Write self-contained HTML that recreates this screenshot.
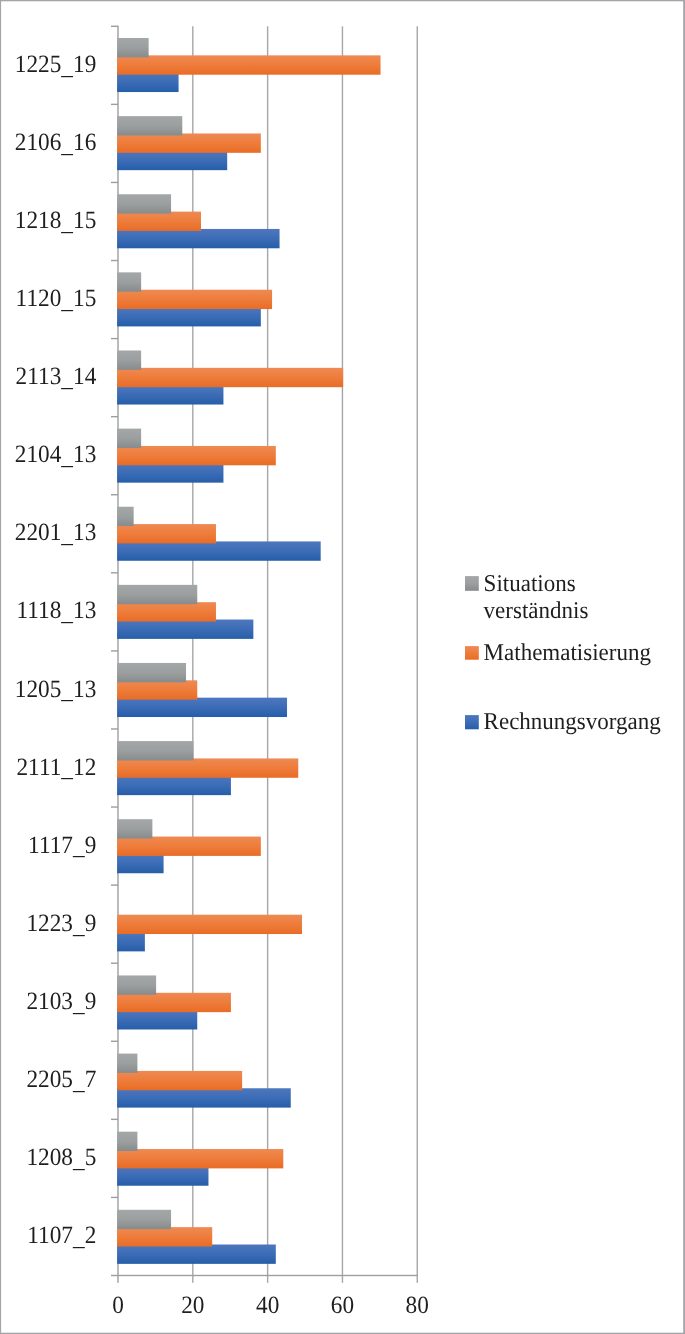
<!DOCTYPE html>
<html><head><meta charset="utf-8"><title>Chart</title>
<style>
html,body{margin:0;padding:0;background:#fff;}
body{width:685px;height:1334px;overflow:hidden;}
svg{display:block;will-change:transform;}
text{font-family:"Liberation Serif",serif;font-size:23px;fill:#1e1e1e;text-rendering:geometricPrecision;}
</style></head><body>
<svg width="685" height="1334" viewBox="0 0 685 1334">
<defs>
<linearGradient id="gg" x1="0" y1="0" x2="0" y2="1"><stop offset="0" stop-color="#a4a7a8"/><stop offset="0.5" stop-color="#9c9fa0"/><stop offset="1" stop-color="#868b8c"/></linearGradient>
<linearGradient id="go" x1="0" y1="0" x2="0" y2="1"><stop offset="0" stop-color="#ee8a54"/><stop offset="0.5" stop-color="#ee7c3a"/><stop offset="1" stop-color="#e86c26"/></linearGradient>
<linearGradient id="gb" x1="0" y1="0" x2="0" y2="1"><stop offset="0" stop-color="#4d77be"/><stop offset="0.5" stop-color="#3c6cb6"/><stop offset="1" stop-color="#265ea9"/></linearGradient>
</defs>
<rect x="0" y="0" width="685" height="1334" fill="#fff"/>

<rect x="192.11" y="26.3" width="1.4" height="1256.5" fill="#a4a6aa"/>
<rect x="266.92" y="26.3" width="1.4" height="1256.5" fill="#a4a6aa"/>
<rect x="341.74" y="26.3" width="1.4" height="1256.5" fill="#a4a6aa"/>
<rect x="416.55" y="26.3" width="1.4" height="1256.5" fill="#a4a6aa"/>
<rect x="117.3" y="25.7" width="1.4" height="1257.1" fill="#9c9ea2"/>
<rect x="111" y="1274.8" width="306.95" height="1.4" fill="#9c9ea2"/>
<rect x="111" y="25.6" width="7" height="1.4" fill="#9c9ea2"/>
<rect x="111" y="103.67" width="7" height="1.4" fill="#9c9ea2"/>
<rect x="111" y="181.75" width="7" height="1.4" fill="#9c9ea2"/>
<rect x="111" y="259.83" width="7" height="1.4" fill="#9c9ea2"/>
<rect x="111" y="337.9" width="7" height="1.4" fill="#9c9ea2"/>
<rect x="111" y="415.98" width="7" height="1.4" fill="#9c9ea2"/>
<rect x="111" y="494.05" width="7" height="1.4" fill="#9c9ea2"/>
<rect x="111" y="572.12" width="7" height="1.4" fill="#9c9ea2"/>
<rect x="111" y="650.2" width="7" height="1.4" fill="#9c9ea2"/>
<rect x="111" y="728.27" width="7" height="1.4" fill="#9c9ea2"/>
<rect x="111" y="806.35" width="7" height="1.4" fill="#9c9ea2"/>
<rect x="111" y="884.42" width="7" height="1.4" fill="#9c9ea2"/>
<rect x="111" y="962.5" width="7" height="1.4" fill="#9c9ea2"/>
<rect x="111" y="1040.58" width="7" height="1.4" fill="#9c9ea2"/>
<rect x="111" y="1118.65" width="7" height="1.4" fill="#9c9ea2"/>
<rect x="111" y="1196.72" width="7" height="1.4" fill="#9c9ea2"/>
<rect x="117.1" y="72.7" width="61.45" height="19.35" fill="url(#gb)"/>
<rect x="117.1" y="55.35" width="263.44" height="19.35" fill="url(#go)"/>
<rect x="117.1" y="38" width="31.52" height="19.35" fill="url(#gg)"/>
<rect x="117.1" y="150.82" width="110.08" height="19.35" fill="url(#gb)"/>
<rect x="117.1" y="133.47" width="143.74" height="19.35" fill="url(#go)"/>
<rect x="117.1" y="116.12" width="65.19" height="19.35" fill="url(#gg)"/>
<rect x="117.1" y="228.94" width="162.45" height="19.35" fill="url(#gb)"/>
<rect x="117.1" y="211.59" width="83.89" height="19.35" fill="url(#go)"/>
<rect x="117.1" y="194.24" width="53.97" height="19.35" fill="url(#gg)"/>
<rect x="117.1" y="307.06" width="143.74" height="19.35" fill="url(#gb)"/>
<rect x="117.1" y="289.71" width="154.96" height="19.35" fill="url(#go)"/>
<rect x="117.1" y="272.36" width="24.04" height="19.35" fill="url(#gg)"/>
<rect x="117.1" y="385.18" width="106.34" height="19.35" fill="url(#gb)"/>
<rect x="117.1" y="367.83" width="226.04" height="19.35" fill="url(#go)"/>
<rect x="117.1" y="350.48" width="24.04" height="19.35" fill="url(#gg)"/>
<rect x="117.1" y="463.3" width="106.34" height="19.35" fill="url(#gb)"/>
<rect x="117.1" y="445.95" width="158.71" height="19.35" fill="url(#go)"/>
<rect x="117.1" y="428.6" width="24.04" height="19.35" fill="url(#gg)"/>
<rect x="117.1" y="541.42" width="203.59" height="19.35" fill="url(#gb)"/>
<rect x="117.1" y="524.07" width="98.86" height="19.35" fill="url(#go)"/>
<rect x="117.1" y="506.72" width="16.56" height="19.35" fill="url(#gg)"/>
<rect x="117.1" y="619.54" width="136.26" height="19.35" fill="url(#gb)"/>
<rect x="117.1" y="602.19" width="98.86" height="19.35" fill="url(#go)"/>
<rect x="117.1" y="584.84" width="80.15" height="19.35" fill="url(#gg)"/>
<rect x="117.1" y="697.66" width="169.93" height="19.35" fill="url(#gb)"/>
<rect x="117.1" y="680.31" width="80.15" height="19.35" fill="url(#go)"/>
<rect x="117.1" y="662.96" width="68.93" height="19.35" fill="url(#gg)"/>
<rect x="117.1" y="775.78" width="113.82" height="19.35" fill="url(#gb)"/>
<rect x="117.1" y="758.43" width="181.15" height="19.35" fill="url(#go)"/>
<rect x="117.1" y="741.08" width="76.41" height="19.35" fill="url(#gg)"/>
<rect x="117.1" y="853.9" width="46.49" height="19.35" fill="url(#gb)"/>
<rect x="117.1" y="836.55" width="143.74" height="19.35" fill="url(#go)"/>
<rect x="117.1" y="819.2" width="35.27" height="19.35" fill="url(#gg)"/>
<rect x="117.1" y="932.02" width="27.78" height="19.35" fill="url(#gb)"/>
<rect x="117.1" y="914.67" width="184.89" height="19.35" fill="url(#go)"/>
<rect x="117.1" y="1010.14" width="80.15" height="19.35" fill="url(#gb)"/>
<rect x="117.1" y="992.79" width="113.82" height="19.35" fill="url(#go)"/>
<rect x="117.1" y="975.44" width="39.01" height="19.35" fill="url(#gg)"/>
<rect x="117.1" y="1088.26" width="173.67" height="19.35" fill="url(#gb)"/>
<rect x="117.1" y="1070.91" width="125.04" height="19.35" fill="url(#go)"/>
<rect x="117.1" y="1053.56" width="20.3" height="19.35" fill="url(#gg)"/>
<rect x="117.1" y="1166.38" width="91.37" height="19.35" fill="url(#gb)"/>
<rect x="117.1" y="1149.03" width="166.19" height="19.35" fill="url(#go)"/>
<rect x="117.1" y="1131.68" width="20.3" height="19.35" fill="url(#gg)"/>
<rect x="117.1" y="1244.5" width="158.71" height="19.35" fill="url(#gb)"/>
<rect x="117.1" y="1227.15" width="95.12" height="19.35" fill="url(#go)"/>
<rect x="117.1" y="1209.8" width="53.97" height="19.35" fill="url(#gg)"/>
<text transform="translate(96.3 72.1) scale(1 1.064)" style="font-size:23.3px" text-anchor="end">1225<tspan dy="1.75">_</tspan><tspan dy="-1.75">19</tspan></text>
<text transform="translate(96.3 150.15) scale(1 1.064)" style="font-size:23.3px" text-anchor="end">2106<tspan dy="1.75">_</tspan><tspan dy="-1.75">16</tspan></text>
<text transform="translate(96.3 228.2) scale(1 1.064)" style="font-size:23.3px" text-anchor="end">1218<tspan dy="1.75">_</tspan><tspan dy="-1.75">15</tspan></text>
<text transform="translate(96.3 306.25) scale(1 1.064)" style="font-size:23.3px" text-anchor="end">1120<tspan dy="1.75">_</tspan><tspan dy="-1.75">15</tspan></text>
<text transform="translate(96.3 384.3) scale(1 1.064)" style="font-size:23.3px" text-anchor="end">2113<tspan dy="1.75">_</tspan><tspan dy="-1.75">14</tspan></text>
<text transform="translate(96.3 462.35) scale(1 1.064)" style="font-size:23.3px" text-anchor="end">2104<tspan dy="1.75">_</tspan><tspan dy="-1.75">13</tspan></text>
<text transform="translate(96.3 540.4) scale(1 1.064)" style="font-size:23.3px" text-anchor="end">2201<tspan dy="1.75">_</tspan><tspan dy="-1.75">13</tspan></text>
<text transform="translate(96.3 618.45) scale(1 1.064)" style="font-size:23.3px" text-anchor="end">1118<tspan dy="1.75">_</tspan><tspan dy="-1.75">13</tspan></text>
<text transform="translate(96.3 696.5) scale(1 1.064)" style="font-size:23.3px" text-anchor="end">1205<tspan dy="1.75">_</tspan><tspan dy="-1.75">13</tspan></text>
<text transform="translate(96.3 774.55) scale(1 1.064)" style="font-size:23.3px" text-anchor="end">2111<tspan dy="1.75">_</tspan><tspan dy="-1.75">12</tspan></text>
<text transform="translate(96.3 852.6) scale(1 1.064)" style="font-size:23.3px" text-anchor="end">1117<tspan dy="1.75">_</tspan><tspan dy="-1.75">9</tspan></text>
<text transform="translate(96.3 930.65) scale(1 1.064)" style="font-size:23.3px" text-anchor="end">1223<tspan dy="1.75">_</tspan><tspan dy="-1.75">9</tspan></text>
<text transform="translate(96.3 1008.7) scale(1 1.064)" style="font-size:23.3px" text-anchor="end">2103<tspan dy="1.75">_</tspan><tspan dy="-1.75">9</tspan></text>
<text transform="translate(96.3 1086.75) scale(1 1.064)" style="font-size:23.3px" text-anchor="end">2205<tspan dy="1.75">_</tspan><tspan dy="-1.75">7</tspan></text>
<text transform="translate(96.3 1164.8) scale(1 1.064)" style="font-size:23.3px" text-anchor="end">1208<tspan dy="1.75">_</tspan><tspan dy="-1.75">5</tspan></text>
<text transform="translate(96.3 1242.85) scale(1 1.064)" style="font-size:23.3px" text-anchor="end">1107<tspan dy="1.75">_</tspan><tspan dy="-1.75">2</tspan></text>
<text transform="translate(118 1312.8) scale(1 1.064)" style="font-size:23.3px" text-anchor="middle">0</text>
<text transform="translate(192.81 1312.8) scale(1 1.064)" style="font-size:23.3px" text-anchor="middle">20</text>
<text transform="translate(267.62 1312.8) scale(1 1.064)" style="font-size:23.3px" text-anchor="middle">40</text>
<text transform="translate(342.44 1312.8) scale(1 1.064)" style="font-size:23.3px" text-anchor="middle">60</text>
<text transform="translate(417.25 1312.8) scale(1 1.064)" style="font-size:23.3px" text-anchor="middle">80</text>
<rect x="465" y="576.1" width="13.8" height="14.7" fill="url(#gg)"/>
<text transform="translate(483.6 590.5) scale(1 1.045)" style="font-size:23px">Situations</text>
<text transform="translate(483.6 618.2) scale(1 1.045)" style="font-size:23px">verständnis</text>
<rect x="465" y="646.1" width="13.8" height="13.6" fill="url(#go)"/>
<text transform="translate(483.6 659.7) scale(1 1.045)" style="font-size:23px">Mathematisierung</text>
<rect x="465" y="715.1" width="13.8" height="14.2" fill="url(#gb)"/>
<text transform="translate(483.6 728.9) scale(1 1.045)" style="font-size:23px">Rechnungsvorgang</text>
<rect x="0" y="0" width="685" height="1.3" fill="#a3a5a9"/>
<rect x="0" y="1332.7" width="685" height="1.3" fill="#a3a5a9"/>
<rect x="0" y="0" width="1.1" height="1334" fill="#a3a5a9"/>
<rect x="683.2" y="0" width="1.8" height="1334" fill="#a3a5a9"/>
</svg></body></html>
